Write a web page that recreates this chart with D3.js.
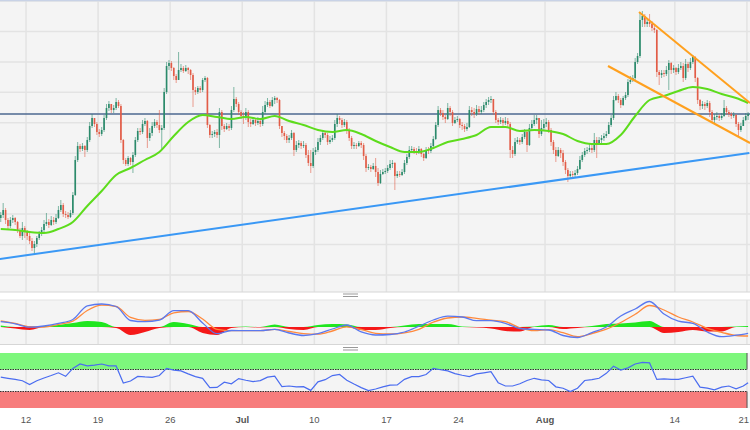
<!DOCTYPE html>
<html><head><meta charset="utf-8">
<script src="https://cdn.jsdelivr.net/npm/d3@7"></script>
<style>html,body{margin:0;padding:0;background:#fff;overflow:hidden}</style>
</head><body><svg id="c" width="750" height="430"></svg>
<script>
// ---- data (4H candles, 9 Jun – 21 Aug) ----
const firstOpen = 82;
const closes = [
85,90,80,74,80,82,78,70,64,72, 68,64,59,52,56,62,66,70,76,78,
75,80,78,82,90,95,86,85,83,87, 105,140,154,151,154,150,160,174,182,176,
168,166,170,182,192,196,190,192,198,194, 160,140,136,142,138,145,160,169,168,176,
179,162,167,174,178,175,170,172,208,234, 237,232,224,220,230,232,229,232,230,225,
210,208,212,210,220,222,175,165,166,168, 165,188,174,171,174,172,190,201,196,188,
184,182,188,178,176,180,177,179,176,188, 195,198,194,200,202,200,174,167,164,160,
162,167,150,155,157,154,155,145,137,134, 148,150,158,162,167,165,158,160,162,176,
182,180,175,178,170,162,154,155,154,157, 155,144,132,133,131,134,128,117,126,128,
129,132,136,137,124,126,125,128,137,143, 150,151,149,148,151,146,142,150,149,154,
161,175,190,187,183,181,192,188,177,180, 181,175,174,171,173,190,188,186,191,188,
190,195,198,200,201,188,180,178,180,177, 179,176,150,146,158,160,158,163,168,155,
172,176,180,182,166,172,176,178,170,158, 150,144,150,147,138,130,124,126,125,127,
131,140,145,149,150,152,150,160,157,160, 162,164,166,175,182,200,204,200,195,202,
205,218,220,222,238,244,280,284,276,278, 276,272,270,228,225,227,226,230,237,230,
232,228,232,234,222,236,232,238,243,222, 200,194,196,194,197,188,180,183,184,182,
184,192,188,186,184,185,176,170,174,180, 184,186];
const highs = [
88,97,92,82,83,85,83,79,72,78, 74,70,67,62,59,64,69,73,80,87,
81,84,83,86,94,100,97,89,88,90, 108,144,158,156,157,155,163,178,186,182,
178,171,173,185,196,199,196,195,202,200, 196,161,142,144,143,148,163,172,172,180,
182,180,172,178,181,180,190,175,212,238, 240,239,233,226,248,236,234,235,233,231,
227,213,214,214,222,224,223,176,169,170, 171,192,190,176,177,176,194,213,203,198,
190,188,192,190,181,183,182,183,182,194, 199,202,200,203,204,203,201,174,169,166,
165,170,168,159,160,159,159,157,150,150, 152,153,162,165,170,169,167,164,165,180,
186,184,182,181,180,172,164,158,157,159, 159,157,146,136,135,137,142,132,130,131,
132,135,140,140,138,129,129,131,140,146, 154,154,153,152,154,152,147,153,153,157,
164,178,194,192,190,185,197,194,190,183, 184,182,178,176,177,194,193,192,195,194,
194,198,201,203,204,201,190,182,183,182, 183,182,178,154,162,163,162,166,171,169,
176,180,185,185,182,180,181,182,180,172, 160,153,153,152,150,140,132,129,129,130,
134,144,148,152,153,157,155,167,163,163, 165,167,169,178,185,204,208,206,202,204,
208,221,224,225,242,247,288,289,286,281, 286,279,276,271,230,230,230,234,240,238,
235,233,236,238,237,241,238,242,245,244, 223,201,199,198,200,199,190,186,188,186,
187,200,194,190,188,188,186,178,177,183, 187,188];
const lows = [
78,82,76,71,72,77,75,67,62,60, 62,60,56,49,45,53,60,64,68,74,
72,74,75,76,81,88,83,82,81,82, 85,104,138,148,149,143,148,158,172,173,
165,163,164,168,180,189,187,187,190,192, 157,136,134,134,135,127,143,158,165,166,
174,152,159,164,172,172,167,150,170,206, 230,229,220,217,220,228,227,228,226,220,
193,205,206,207,208,218,172,162,162,163, 162,152,170,168,170,169,170,188,193,185,
181,176,180,173,173,175,174,175,173,174, 186,193,192,193,196,197,171,163,160,157,
157,160,144,148,152,151,152,142,134,127, 132,145,148,155,160,162,155,156,158,160,
173,176,172,173,166,159,151,151,151,153, 152,140,128,130,128,130,123,114,116,125,
126,127,130,132,110,122,123,124,126,135, 141,147,146,145,146,143,139,141,146,147,
152,160,173,184,180,177,180,184,174,176, 178,172,170,168,169,172,184,182,184,185,
186,188,192,195,197,185,177,175,176,174, 175,173,142,142,144,156,155,156,161,148,
154,170,174,176,162,164,170,173,167,154, 146,138,143,142,134,126,118,121,122,123,
125,130,138,143,146,148,147,148,142,157, 157,159,162,166,173,180,199,197,192,194,
200,203,216,218,220,236,242,273,273,273, 273,269,267,223,215,222,223,224,210,226,
227,225,226,230,218,220,228,230,236,218, 196,190,191,190,192,183,177,177,180,179,
180,183,185,183,181,182,173,163,168,175, 179,180];
// moving average, one value every 6 candles (last = final candle)
const maValues = [71,70,68,67,71,78,94,109,125,132,140,148,164,178,185,183,181,183,181,184,
179,175,170,168,170,166,159,153,148,148,152,158,161,165,173,173,169,170,169,166,
159,156,156,165,184,200,204,209,213,211,206,202,197];
// MACD, one value every 6 candles
const macdLine = [5.3,3.2,-0.2,1,3.6,7.5,21.2,23,20.5,6.5,5.3,6.8,16.3,16.3,4,-6.7,-3.5,-3.7,-3.7,-2.3,-6,-8.5,-6.7,-2,2,-4.9,
-8,-7.5,-5,0.8,7,10.8,10,6.3,6.3,3.7,-1.5,-2.4,-3,-8.5,-10.5,-5.6,0,11,18,25.5,13,5.8,3.7,-5,-9.7,-8.2,-6.3];
const signalLine = [6.2,3.6,0.3,0,2.7,5.9,16.5,21.8,20.5,9.6,6.7,7.6,14.2,15.5,8,-2.3,-3.7,-3.7,-3.7,-2.3,-4.5,-6.6,-7.2,-4,0.1,-2.5,
-6.3,-7,-5.8,-2.3,4.8,9,10,8.7,6.9,5.3,-0.8,-3.6,-2.6,-5.7,-9.6,-6.5,-2.2,4.5,12.7,21.5,17,10,5,-1.3,-5.3,-8.5,-9];
const macdHist = [1.5,-1.5,-3,1,2,4,6,5,-1,-8,-5,-1,5,3,-6,-8,-1,0.5,-0.5,2.5,-2,-3,2,3,2.5,-3,
-3,-1,1.5,3,3,3,0.5,-0.5,-1.5,-4,-4.5,0.5,2,-2,-1,1,3,3.5,4.5,6,-6,-5,-3,-4.5,-4.5,0.5,1];
// RSI, one value every 3 candles
const rsiValues = [56,54,52,49.5,42.5,49.5,54.5,59,64,57.5,
72,80,76.5,78,80,76.5,76.5,45.5,49,57.5,
56.5,55.8,59,72,69,67.5,62,57,54,37,
37.5,47,44,53.5,50.5,48,49.7,56,58,38.8,
40,38.5,38.8,32,47.5,51.5,59,61,50.5,43.5,
37,31.5,34.5,38.5,41.5,41.8,52,57,57,61,
72,69.5,67.5,62.5,59.5,57,62,64,66,46,
40,40,44,50,54,51,50,38.5,36,29.7,
36,50,51.5,54,63,76,69,73,80,83,
82,52,53,52,52,55,58,38,36,33,
38,40,35,40,46];
const tickIndex = [11,41,71,101,131,161,191,227,281,311];
const tickLabels = ["12","19","26","Jul","10","17","24","Aug","14","21"];
const tickBold = [false,false,false,true,false,false,false,true,false,false];
const gridLevels = [25,55.5,86,116.4,146.8,177.3,207.7,238.1,268.6,299];
const hLineLevel = 186;
const supportLine = [[-0.5,41],[311.5,147]];
const channelUpper = [[265.6,288],[311.8,197]];
const channelLower = [[252.7,234],[311.8,157]];
const rsiLevels = [70,30];

// ---- drawing ----
const N = closes.length;
const svg = d3.select("#c");
const x = d3.scaleLinear().domain([-0.5, N - 0.5]).range([-0.44, 749.3]);
const step = x(1) - x(0);
const y = d3.scaleLinear().domain([8, 300]).range([292, 0]);
const yM = d3.scaleLinear().domain([-17, 27]).range([344, 300]);
const yR = d3.scaleLinear().domain([0, 100]).range([408, 353]);

const defs = svg.append("defs");
function clip(id, y0, y1){ defs.append("clipPath").attr("id", id).append("rect").attr("x",0).attr("y",y0).attr("width",750).attr("height",y1-y0); }
clip("cm",0,292); clip("cmacd",300,344); clip("crsi",353,408);

svg.append("rect").attr("width",750).attr("height",430).attr("fill","#fff");
[[0,292],[300,344],[353,408]].forEach(([a,b])=>{
  svg.append("rect").attr("x",0).attr("y",a).attr("width",750).attr("height",b-a).attr("fill","#f4f4f4");
});
const gx = tickIndex.map(i => x(i) - step/2);
[[0,292],[300,344],[353,408]].forEach(([a,b])=>{
  svg.append("g").selectAll("line").data(gx).join("line")
    .attr("x1",d=>d).attr("x2",d=>d).attr("y1",a).attr("y2",b)
    .attr("stroke","#e3e3e3").attr("stroke-width",1.5);
});
svg.append("g").selectAll("line").data(gridLevels).join("line")
  .attr("x1",0).attr("x2",750).attr("y1",d=>y(d)).attr("y2",d=>y(d))
  .attr("stroke","#e3e3e3").attr("stroke-width",1.5);
svg.append("line").attr("x1",0).attr("x2",750).attr("y1",0.5).attr("y2",0.5).attr("stroke","#c8d2e6").attr("stroke-width",1.5);
svg.append("line").attr("x1",0).attr("x2",750).attr("y1",292).attr("y2",292).attr("stroke","#d6d6d6");
svg.append("line").attr("x1",0).attr("x2",750).attr("y1",300).attr("y2",300).attr("stroke","#e2e2e2");
svg.append("line").attr("x1",0).attr("x2",750).attr("y1",344.5).attr("y2",344.5).attr("stroke","#d6d6d6");

const main = svg.append("g").attr("clip-path","url(#cm)");
main.append("line").attr("x1",0).attr("x2",750).attr("y1",y(hLineLevel)).attr("y2",y(hLineLevel))
  .attr("stroke","#4d6891").attr("stroke-width",1.3);

const candles = closes.map((c,i)=>{
  const o = i===0 ? firstOpen : closes[i-1];
  return {i, o, c, h: Math.max(highs[i], o, c), l: Math.min(lows[i], o, c)};
});
const up = "#2b8a6b", dn = "#e25c47";
const bw = step * 0.68;
const cg = main.append("g");
cg.selectAll("line").data(candles).join("line")
  .attr("x1",d=>x(d.i)).attr("x2",d=>x(d.i)).attr("y1",d=>y(d.h)).attr("y2",d=>y(d.l))
  .attr("stroke",d=>d.c>=d.o?up:dn).attr("stroke-opacity",0.65).attr("stroke-width",0.9);
cg.selectAll("rect").data(candles).join("rect")
  .attr("x",d=>x(d.i)-bw/2).attr("width",bw)
  .attr("y",d=>y(Math.max(d.o,d.c))).attr("height",d=>Math.max(1,Math.abs(y(d.o)-y(d.c))))
  .attr("fill",d=>d.c>=d.o?up:dn);

const maPts = maValues.map((v,j)=>[Math.min(j*6, N-1), v]);
main.append("path").datum(maPts)
  .attr("d", d3.line().x(d=>x(d[0])).y(d=>y(d[1])).curve(d3.curveMonotoneX))
  .attr("fill","none").attr("stroke","#5ddc1c").attr("stroke-width",2);

const tl = d3.line().x(d=>x(d[0])).y(d=>y(d[1]));
main.append("path").datum(supportLine).attr("d",tl).attr("stroke","#3a98f5").attr("stroke-width",2).attr("fill","none");
main.append("path").datum(channelUpper).attr("d",tl).attr("stroke","#ffa01e").attr("stroke-width",2).attr("fill","none");
main.append("path").datum(channelLower).attr("d",tl).attr("stroke","#ffa01e").attr("stroke-width",2).attr("fill","none");

const mg = svg.append("g").attr("clip-path","url(#cmacd)");
const hPts = macdHist.map((v,j)=>[Math.min(j*6,N-1), v]);
mg.append("path").datum(hPts)
  .attr("d", d3.area().x(d=>x(d[0])).y0(yM(0)).y1(d=>yM(Math.max(0,d[1]))).curve(d3.curveMonotoneX))
  .attr("fill","#1fe61f");
mg.append("path").datum(hPts)
  .attr("d", d3.area().x(d=>x(d[0])).y0(yM(0)).y1(d=>yM(Math.min(0,d[1]))).curve(d3.curveMonotoneX))
  .attr("fill","#f51818");
const ml = d3.line().x(d=>x(d[0])).y(d=>yM(d[1])).curve(d3.curveMonotoneX);
mg.append("path").datum(signalLine.map((v,j)=>[Math.min(j*6,N-1),v])).attr("d",ml)
  .attr("fill","none").attr("stroke","#ff8a3d").attr("stroke-width",1.3);
mg.append("path").datum(macdLine.map((v,j)=>[Math.min(j*6,N-1),v])).attr("d",ml)
  .attr("fill","none").attr("stroke","#5a78ef").attr("stroke-width",1.3);

const rg = svg.append("g").attr("clip-path","url(#crsi)");
rg.append("rect").attr("x",0).attr("y",yR(100)).attr("width",747).attr("height",yR(70)-yR(100)).attr("fill","#7df77c");
rg.append("rect").attr("x",0).attr("y",yR(30)).attr("width",747).attr("height",yR(0)-yR(30)).attr("fill","#f77c7c");
rg.append("line").attr("x1",747).attr("x2",747).attr("y1",yR(100)).attr("y2",yR(70)).attr("stroke","#555");
rg.append("line").attr("x1",747).attr("x2",747).attr("y1",yR(30)).attr("y2",yR(0)).attr("stroke","#555");
rg.selectAll("line.lv").data(rsiLevels).join("line").attr("class","lv")
  .attr("x1",0).attr("x2",747).attr("y1",d=>yR(d)).attr("y2",d=>yR(d))
  .attr("stroke","#333").attr("stroke-dasharray","1.5,1").attr("stroke-width",1);
rg.append("path").datum(rsiValues.map((v,j)=>[Math.min(j*3,N-1),v]))
  .attr("d", d3.line().x(d=>x(d[0])).y(d=>yR(d[1])))
  .attr("fill","none").attr("stroke","#4a6cf0").attr("stroke-width",1.2);

[295,348.5].forEach(hy=>{
  svg.append("line").attr("x1",343).attr("x2",358).attr("y1",hy-1).attr("y2",hy-1).attr("stroke","#999");
  svg.append("line").attr("x1",343).attr("x2",358).attr("y1",hy+1.5).attr("y2",hy+1.5).attr("stroke","#999");
});

// x axis labels (last one kept inside the frame)
svg.append("g").selectAll("text").data(tickIndex).join("text")
  .attr("x",(d,i)=> i===tickIndex.length-1 ? 749 : gx[i]).attr("y",423)
  .attr("text-anchor",(d,i)=> i===tickIndex.length-1 ? "end" : "middle")
  .attr("font-family","'Liberation Sans', Arial, sans-serif").attr("font-size",9.5)
  .attr("font-weight",(d,i)=>tickBold[i]?"bold":"normal")
  .attr("fill","#555").text((d,i)=>tickLabels[i]);
</script></body></html>
